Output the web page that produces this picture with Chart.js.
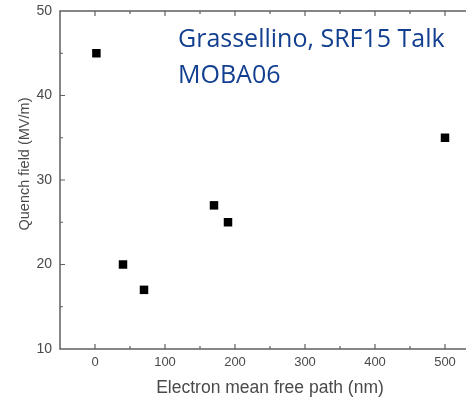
<!DOCTYPE html>
<html>
<head>
<meta charset="utf-8">
<script src="https://cdn.jsdelivr.net/npm/chart.js@4/dist/chart.umd.min.js"></script>
<style>
  html, body { margin: 0; padding: 0; background: #fff; overflow: hidden; }
  /* the plot runs past the right edge of the window */
  #wrap { position: relative; width: 490px; height: 399px; }
</style>
</head>
<body>
<div id="wrap"><canvas id="quenchChart"></canvas></div>
<script>
// mean free path (nm) vs quench field (MV/m)
const meanFreePath = [2, 40, 70, 170, 190, 500];
const quenchField = [45, 20, 17, 27, 25, 35];

const xMajorTicks = [0, 100, 200, 300, 400, 500];
const xMinorTicks = [50, 150, 250, 350, 450];
const yMajorTicks = [10, 20, 30, 40, 50];
const yMinorTicks = [15, 25, 35, 45];

const yTitle = "Quench field (MV/m)";
const noteLines = ["Grassellino, SRF15 Talk", "MOBA06"];

const axisColor = "#5f5f5f";
const textColor = "#4a4a4a";
const labelFont = "Arial, 'Liberation Sans'";

// box frame with inward-pointing ticks
const framePlugin = {
  id: "frame",
  afterDatasetsDraw(chart) {
    const { ctx, chartArea: a, scales } = chart;
    const x = scales.x, y = scales.y;
    ctx.save();
    ctx.strokeStyle = axisColor;
    ctx.lineWidth = 1.5;
    ctx.strokeRect(a.left, a.top, a.right - a.left, a.bottom - a.top);

    ctx.lineWidth = 1.2;
    const tick = (vals, len) => {
      vals.forEach((v) => {
        const px = x.getPixelForValue(v);
        ctx.beginPath();
        ctx.moveTo(px, a.bottom);
        ctx.lineTo(px, a.bottom - len);
        ctx.moveTo(px, a.top);
        ctx.lineTo(px, a.top + len);
        ctx.stroke();
      });
    };
    tick(xMajorTicks, 5);
    tick(xMinorTicks, 3);
    const ytick = (vals, len) => {
      vals.forEach((v) => {
        const py = y.getPixelForValue(v);
        ctx.beginPath();
        ctx.moveTo(a.left, py);
        ctx.lineTo(a.left + len, py);
        ctx.moveTo(a.right, py);
        ctx.lineTo(a.right - len, py);
        ctx.stroke();
      });
    };
    ytick(yMajorTicks.slice(1, -1), 5);
    ytick(yMinorTicks, 3);
    ctx.restore();
  },
  afterDraw(chart) {
    const { ctx } = chart;
    ctx.save();
    // rotated y title, sitting a little above the axis middle
    ctx.fillStyle = textColor;
    ctx.font = "14.5px " + labelFont;
    ctx.textAlign = "center";
    ctx.textBaseline = "middle";
    ctx.translate(25, 164);
    ctx.rotate(-Math.PI / 2);
    ctx.fillText(yTitle, 0, 0);
    ctx.restore();

    ctx.save();
    ctx.fillStyle = "#123f8f";
    ctx.font = "25px 'Open Sans'";
    ctx.textBaseline = "alphabetic";
    ctx.fillText(noteLines[0], 178, 47);
    ctx.fillText(noteLines[1], 178, 83);
    ctx.restore();
  },
};

new Chart(document.getElementById("quenchChart"), {
  type: "scatter",
  data: {
    datasets: [
      {
        data: meanFreePath.map((v, i) => ({ x: v, y: quenchField[i] })),
        pointStyle: "rect",
        pointRadius: 6,
        pointHoverRadius: 6,
        borderWidth: 0,
        backgroundColor: "#000",
        borderColor: "#000",
      },
    ],
  },
  options: {
    responsive: true,
    maintainAspectRatio: false,
    animation: false,
    layout: { padding: { top: 11, right: 10, left: 0, bottom: 0 } },
    plugins: { legend: { display: false }, tooltip: { enabled: false } },
    scales: {
      x: {
        type: "linear",
        min: -50,
        max: 550,
        grid: { display: false, drawTicks: false },
        border: { display: false },
        afterBuildTicks: (s) => { s.ticks = xMajorTicks.map((v) => ({ value: v })); },
        afterFit: (s) => { s.height = 50; s.paddingLeft = 0; s.paddingRight = 0; },
        ticks: { color: textColor, font: { family: labelFont, size: 13 }, padding: 6 },
        title: {
          display: true,
          text: "Electron mean free path (nm)",
          color: textColor,
          font: { family: labelFont, size: 17.5 },
          padding: { top: 0, bottom: 0 },
        },
      },
      y: {
        type: "linear",
        min: 10,
        max: 50,
        grid: { display: false, drawTicks: false },
        border: { display: false },
        afterBuildTicks: (s) => { s.ticks = yMajorTicks.map((v) => ({ value: v })); },
        afterFit: (s) => { s.width = 60; s.paddingTop = 0; s.paddingBottom = 0; },
        ticks: { color: textColor, font: { family: labelFont, size: 14 }, padding: 8 },
      },
    },
  },
  plugins: [framePlugin],
});
</script>
</body>
</html>
